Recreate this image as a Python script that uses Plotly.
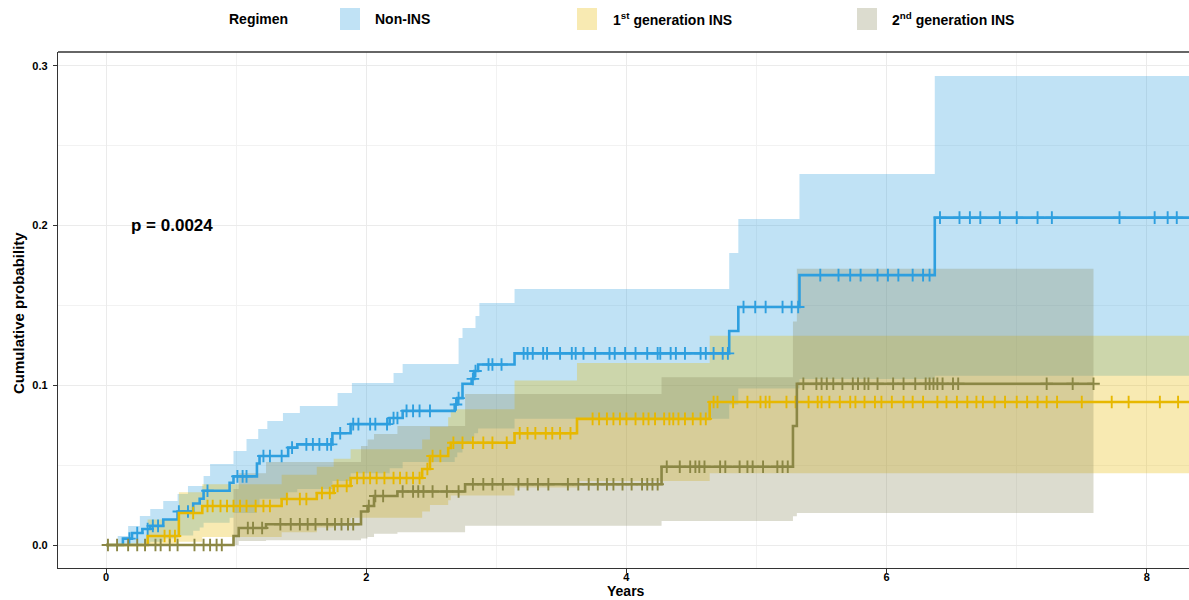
import plotly.graph_objects as go

# ---------------------------------------------------------------------------
# Cumulative incidence by regimen (step estimates, 95% CI, censoring times)
# ---------------------------------------------------------------------------
GROUPS = ["Non-INS", "1st generation INS", "2nd generation INS"]

# Non-INS
ni_time = [0, 0.13, 0.20, 0.28, 0.34, 0.44, 0.55, 0.67, 0.72, 0.75, 0.95, 0.98, 1.16, 1.18,
           1.40, 1.47, 1.74, 1.88, 2.18, 2.28, 2.68, 2.70, 2.74, 2.81, 2.83, 2.86, 3.14, 4.79,
           4.86, 5.33, 6.37]
ni_est = [0, 0.004, 0.0075, 0.010, 0.012, 0.016, 0.021, 0.026, 0.029, 0.034, 0.039, 0.043,
          0.051, 0.0557, 0.061, 0.063, 0.070, 0.0757, 0.0795, 0.084, 0.088, 0.092, 0.101,
          0.104, 0.109, 0.113, 0.120, 0.134, 0.149, 0.169, 0.205]
ni_up_time = [0.09, 0.17, 0.26, 0.34, 0.44, 0.55, 0.63, 0.75, 0.80, 0.98, 1.08, 1.17, 1.24,
              1.36, 1.49, 1.78, 1.89, 2.21, 2.28, 2.71, 2.74, 2.84, 2.87, 3.14, 4.79, 4.86,
              5.33, 6.37]
ni_upper = [0.0056, 0.0119, 0.0182, 0.0225, 0.0275, 0.0319, 0.0369, 0.0432, 0.0507, 0.0589,
            0.0664, 0.0726, 0.0776, 0.0827, 0.087, 0.0952, 0.1014, 0.1077, 0.1133, 0.1296,
            0.1359, 0.1434, 0.1515, 0.1603, 0.1829, 0.2041, 0.2323, 0.2937]
ni_lo_time = [0.09, 0.28, 0.34, 0.44, 0.55, 0.67, 0.72, 0.75, 0.95, 0.98, 1.16, 1.18, 1.40,
              1.47, 1.74, 1.88, 2.18, 2.28, 2.68, 2.70, 2.74, 2.81, 2.83, 2.86, 3.14, 4.79,
              4.86, 5.33, 6.37]
ni_lower = [0.0, 0.001, 0.002, 0.004, 0.006, 0.009, 0.011, 0.014, 0.017, 0.020, 0.025, 0.029,
            0.033, 0.035, 0.040, 0.045, 0.048, 0.052, 0.055, 0.058, 0.064, 0.067, 0.070, 0.073,
            0.079, 0.088, 0.098, 0.104, 0.106]
ni_censor = [0.18, 0.24, 0.32, 0.36, 0.40, 0.56, 0.63, 0.78, 1.01, 1.05, 1.08, 1.21, 1.26,
             1.35, 1.43, 1.54, 1.59, 1.64, 1.70, 1.73, 1.80, 1.90, 1.94, 2.03, 2.07, 2.16,
             2.21, 2.24, 2.31, 2.36, 2.41, 2.49, 2.69, 2.71, 2.82, 2.84, 2.94, 2.97, 3.04,
             3.21, 3.24, 3.28, 3.36, 3.39, 3.49, 3.58, 3.61, 3.67, 3.76, 3.87, 3.91, 3.99,
             4.07, 4.16, 4.24, 4.26, 4.34, 4.38, 4.45, 4.57, 4.61, 4.67, 4.74, 4.78, 4.90,
             4.99, 5.07, 5.20, 5.27, 5.32, 5.49, 5.63, 5.72, 5.80, 5.93, 6.01, 6.09, 6.20,
             6.28, 6.33, 6.41, 6.56, 6.64, 6.72, 6.87, 7.00, 7.16, 7.27, 7.79, 8.06, 8.16, 8.23]
ni_end = 8.6

# 1st generation INS
g1_time = [0, 0.32, 0.56, 0.74, 1.35, 1.62, 1.75, 1.88, 2.43, 2.49, 2.63, 2.65, 3.14, 3.62,
           4.64]
g1_est = [0, 0.0056, 0.020, 0.0244, 0.0288, 0.0326, 0.037, 0.042, 0.0476, 0.0557, 0.0607,
          0.064, 0.070, 0.079, 0.0895]
g1_ci_time = [0.32, 0.56, 0.74, 1.35, 1.62, 1.75, 1.88, 2.43, 2.49, 2.63, 2.65, 3.14, 3.62,
              4.64]
g1_upper = [0.016, 0.033, 0.038, 0.044, 0.049, 0.054, 0.060, 0.066, 0.074, 0.080, 0.085,
            0.103, 0.114, 0.131]
g1_lower = [0.0, 0.002, 0.005, 0.008, 0.011, 0.014, 0.017, 0.021, 0.025, 0.028, 0.031, 0.036,
            0.040, 0.045]
g1_censor = [0.45, 0.49, 0.53, 0.67, 0.78, 0.82, 0.88, 0.93, 0.98, 1.03, 1.08, 1.15, 1.21,
             1.26, 1.39, 1.49, 1.54, 1.66, 1.72, 1.78, 1.85, 1.93, 1.98, 2.03, 2.08, 2.14,
             2.21, 2.26, 2.31, 2.36, 2.41, 2.47, 2.51, 2.57, 2.67, 2.74, 2.82, 2.90, 2.97,
             3.08, 3.18, 3.24, 3.30, 3.38, 3.43, 3.49, 3.57, 3.74, 3.79, 3.85, 3.90, 3.95,
             4.00, 4.07, 4.13, 4.17, 4.22, 4.29, 4.33, 4.36, 4.40, 4.45, 4.51, 4.57, 4.61,
             4.67, 4.70, 4.82, 4.93, 5.03, 5.07, 5.10, 5.23, 5.30, 5.40, 5.47, 5.50, 5.56,
             5.64, 5.72, 5.76, 5.83, 5.91, 5.96, 6.04, 6.13, 6.20, 6.28, 6.39, 6.46, 6.54,
             6.62, 6.69, 6.74, 6.83, 6.91, 7.00, 7.08, 7.16, 7.23, 7.31, 7.50, 7.73, 7.86,
             8.10, 8.24]
g1_end = 8.6

# 2nd generation INS
g2_time = [0, 0.98, 1.02, 1.23, 1.96, 2.01, 2.06, 2.24, 2.76, 4.27, 5.28, 5.31]
g2_est = [0, 0.0056, 0.0106, 0.013, 0.021, 0.0244, 0.0307, 0.0335, 0.038, 0.049, 0.0745, 0.101]
g2_ci_time = [0.98, 1.02, 1.23, 1.96, 2.01, 2.06, 2.24, 2.76, 4.27, 5.28, 5.31]
g2_upper = [0.035, 0.045, 0.052, 0.062, 0.066, 0.0695, 0.0745, 0.0945, 0.105, 0.14, 0.173]
g2_lower = [0.0, 0.0025, 0.003, 0.004, 0.005, 0.007, 0.008, 0.012, 0.015, 0.018, 0.020]
g2_censor = [0.015, 0.085, 0.17, 0.24, 0.30, 0.38, 0.42, 0.49, 0.55, 0.68, 0.75, 0.80, 0.85,
             0.89, 1.09, 1.13, 1.20, 1.34, 1.42, 1.49, 1.55, 1.61, 1.70, 1.76, 1.81, 1.86,
             1.90, 2.02, 2.07, 2.13, 2.28, 2.36, 2.40, 2.44, 2.51, 2.62, 2.71, 2.82, 2.90,
             2.97, 3.05, 3.17, 3.24, 3.32, 3.40, 3.55, 3.63, 3.71, 3.78, 3.85, 3.90, 3.97,
             4.04, 4.12, 4.16, 4.20, 4.24, 4.31, 4.41, 4.49, 4.53, 4.56, 4.60, 4.72, 4.76,
             4.87, 4.93, 4.97, 5.05, 5.16, 5.20, 5.24, 5.36, 5.46, 5.50, 5.54, 5.59, 5.66,
             5.74, 5.78, 5.83, 5.86, 5.93, 6.05, 6.13, 6.22, 6.30, 6.33, 6.36, 6.39, 6.43,
             6.51, 6.55, 7.23, 7.43, 7.59]
g2_end = 7.59

P_VALUE_TEXT = "p = 0.0024"
X_TICKS = [0, 2, 4, 6, 8]
Y_TICKS = [0.0, 0.1, 0.2, 0.3]

# ---------------------------------------------------------------------------
# Styling
# ---------------------------------------------------------------------------
FONT = "Liberation Sans, Arial, sans-serif"
COLORS = {"Non-INS": "#2E9FDF", "1st generation INS": "#E7B800",
          "2nd generation INS": "#8B8745"}
FILLS = {"Non-INS": "rgba(46,159,223,0.3)", "1st generation INS": "rgba(231,184,0,0.3)",
         "2nd generation INS": "rgba(140,140,95,0.3)"}

W, H = 1189, 600
PLOT_L, PLOT_R, PLOT_T, PLOT_B = 58, 1189, 52, 568


def px_x(px):
    return (px - PLOT_L) / (PLOT_R - PLOT_L)


def px_y(py):
    return (PLOT_B - py) / (PLOT_B - PLOT_T)


def step_value(times, values, t):
    v = values[0]
    for ti, vi in zip(times, values):
        if ti <= t:
            v = vi
    return v


def extend(times, values, end):
    return list(times) + [end], list(values) + [values[-1]]


series = [
    ("Non-INS", ni_time, ni_est, ni_up_time, ni_upper, ni_lo_time, ni_lower, ni_censor, ni_end),
    ("1st generation INS", g1_time, g1_est, g1_ci_time, g1_upper, g1_ci_time, g1_lower,
     g1_censor, g1_end),
    ("2nd generation INS", g2_time, g2_est, g2_ci_time, g2_upper, g2_ci_time, g2_lower,
     g2_censor, g2_end),
]

fig = go.Figure()

# confidence bands
for name, t, est, ut, up, lt, lo, cens, end in series:
    ux, uy = extend(ut, up, end)
    lx, ly = extend(lt, lo, end)
    fig.add_trace(go.Scatter(x=ux, y=uy, mode="lines", line=dict(width=0, shape="hv"),
                             hoverinfo="skip", showlegend=False))
    fig.add_trace(go.Scatter(x=lx, y=ly, mode="lines", line=dict(width=0, shape="hv"),
                             fill="tonexty", fillcolor=FILLS[name], hoverinfo="skip",
                             showlegend=False))

# step curves and censoring marks
for name, t, est, ut, up, lt, lo, cens, end in series:
    sx, sy = extend(t, est, end)
    fig.add_trace(go.Scatter(x=sx, y=sy, mode="lines", name=name,
                             line=dict(color=COLORS[name], width=2.6, shape="hv"),
                             showlegend=False))
    fig.add_trace(go.Scatter(x=cens, y=[step_value(t, est, c) for c in cens], mode="markers",
                             marker=dict(symbol="cross-thin", size=9,
                                         line=dict(color=COLORS[name], width=1.9)),
                             showlegend=False, hoverinfo="skip"))

# p-value
fig.add_annotation(x=0.18, y=0.2, xref="x", yref="y", text=P_VALUE_TEXT, showarrow=False,
                   xanchor="left", yanchor="middle",
                   font=dict(family=FONT, size=17, color="black", weight="bold"))

# axis titles
fig.add_annotation(x=4, y=px_y(600), xref="x", yref="paper", text="Years", showarrow=False,
                   xanchor="center", yanchor="bottom", borderpad=0,
                   font=dict(family=FONT, size=14, color="black", weight="bold"))
fig.add_annotation(x=px_x(18), y=px_y(313), xref="paper", yref="paper",
                   text="Cumulative probability", textangle=-90, showarrow=False,
                   xanchor="center", yanchor="middle",
                   font=dict(family=FONT, size=15, color="black", weight="bold"))

# legend (title, fill swatches, labels)
legend_font = dict(family=FONT, size=14, color="black", weight="bold")
fig.add_annotation(x=px_x(258), y=px_y(19), xref="paper", yref="paper", text="Regimen",
                   showarrow=False, xanchor="center", yanchor="middle", font=legend_font)
legend_items = [
    ("Non-INS", "Non-INS", 340, 373),
    ("1st generation INS", "1<sup>st</sup> generation INS", 577, 611),
    ("2nd generation INS", "2<sup>nd</sup> generation INS", 857, 890),
]
for key, label, sw_left, txt_left in legend_items:
    fig.add_shape(type="rect", xref="paper", yref="paper",
                  x0=px_x(sw_left), x1=px_x(sw_left + 20), y0=px_y(30), y1=px_y(8),
                  fillcolor=FILLS[key], line=dict(width=0), layer="above")
    fig.add_annotation(x=px_x(txt_left), y=px_y(19), xref="paper", yref="paper", text=label,
                       showarrow=False, xanchor="left", yanchor="middle", font=legend_font)

# top panel border
fig.add_shape(type="line", xref="paper", yref="paper", x0=0, x1=1, y0=1, y1=1,
              line=dict(color="#333333", width=1.3))

tick_font = dict(family=FONT, size=11, color="black", weight="bold")
fig.update_xaxes(range=[-0.369, 8.324], tickvals=X_TICKS, ticktext=[str(v) for v in X_TICKS],
                 showline=True, linecolor="#333333", linewidth=1.3, ticks="outside",
                 ticklen=4, tickcolor="#333333", tickfont=tick_font, ticklabelstandoff=-5,
                 showgrid=True, gridcolor="#ebebeb", gridwidth=1, zeroline=False,
                 minor=dict(tickvals=[1, 3, 5, 7], showgrid=True, gridcolor="#f2f2f2",
                            gridwidth=1, ticks=""))
fig.update_yaxes(range=[-0.0144, 0.3087], tickvals=Y_TICKS,
                 ticktext=[f"{v:.1f}" for v in Y_TICKS], showline=True, linecolor="#333333",
                 linewidth=1.3, ticks="outside", ticklen=4, tickcolor="#333333",
                 tickfont=tick_font, ticklabelstandoff=3, showgrid=True, gridcolor="#ebebeb",
                 gridwidth=1, zeroline=False,
                 minor=dict(tickvals=[0.05, 0.15, 0.25], showgrid=True, gridcolor="#f2f2f2",
                            gridwidth=1, ticks=""))

fig.update_layout(width=W, height=H, paper_bgcolor="white", plot_bgcolor="white",
                  margin=dict(l=PLOT_L, r=W - PLOT_R, t=PLOT_T, b=H - PLOT_B),
                  showlegend=False, font=dict(family=FONT))

fig.write_html("out.html")
